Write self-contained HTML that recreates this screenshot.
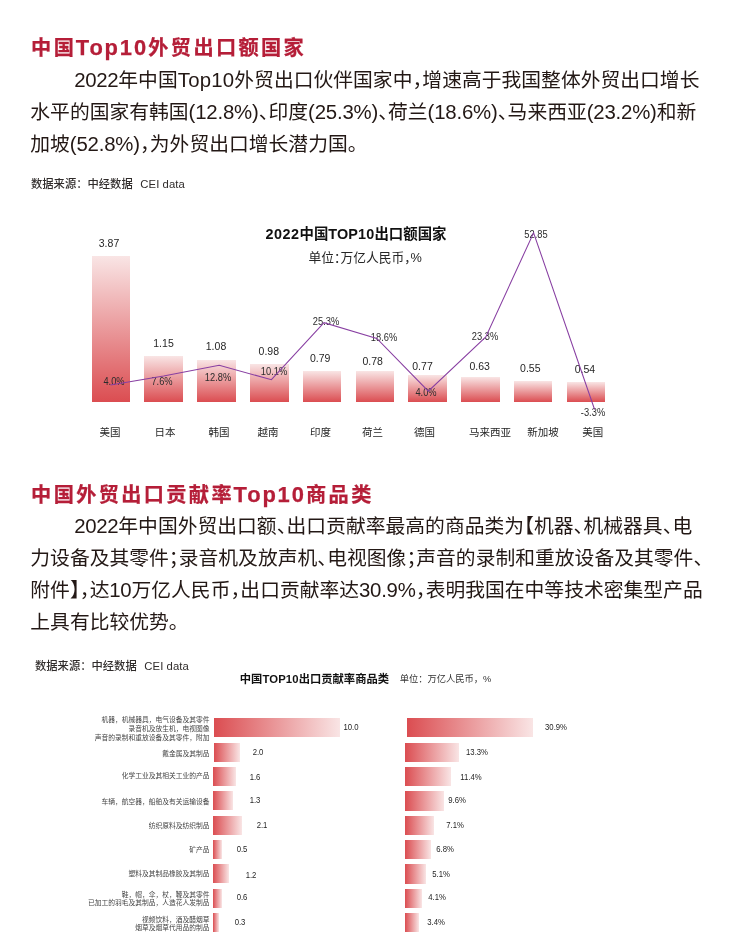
<!DOCTYPE html>
<html lang="zh-CN">
<head>
<meta charset="utf-8">
<title>中国Top10外贸出口额国家</title>
<style>
html,body{margin:0;padding:0;background:#fff;}
body{width:739px;height:940px;position:relative;overflow:hidden;font-family:"Liberation Sans","Noto Sans CJK SC",sans-serif;color:#231815;}
.abs{position:absolute;white-space:nowrap;margin:0;padding:0;}
h2.abs{font-size:20.2px;font-weight:bold;color:#b51e38;-webkit-text-stroke:0.25px #b51e38;letter-spacing:2.35px;line-height:24px;}
p.body{font-size:19.8px;line-height:32px;letter-spacing:0.01px;}
.h{font-feature-settings:"halt";}
.e{font-size:1.03em;}
.src{font-size:11.3px;line-height:14px;color:#302c2b;font-weight:500;}
.src span{letter-spacing:0.08px;margin-left:7.6px;}
.c{position:absolute;white-space:nowrap;transform:translate(-50%,-50%);line-height:1;}
.l{position:absolute;white-space:nowrap;transform:translate(0,-50%);line-height:1;}
.v{font-size:10.5px;color:#262626;}
.pc{font-size:10px;color:#2c2c2c;transform:translate(-50%,-50%) scaleX(0.93);}
.cat{font-size:10.5px;color:#262626;}
.bar{position:absolute;background:linear-gradient(to top,#db4d51,#f9e5e5);}
.hbar{position:absolute;background:linear-gradient(to right,#db4d51,#f9e5e5);}
.ct1{font-size:14.4px;font-weight:bold;color:#111;}
.cs1{font-size:12.75px;color:#262626;}
.ct2{font-size:11.3px;font-weight:bold;color:#111;}
.cs2{font-size:9.27px;color:#333;}
.hv{font-size:8.7px;color:#1f1f1f;transform:translate(-50%,-50%) scaleX(0.89);}
svg{position:absolute;left:0;top:0;overflow:visible;}
</style>
</head>
<body>
<h2 class="abs" style="left:31.1px;top:36.2px;">中国<span style="font-size:1.085em;letter-spacing:1.85px;margin-left:-0.4px;margin-right:0.4px">Top10</span>外贸出口额国家</h2>
<p class="abs body" style="left:74.4px;top:64px;"><span class="e" style="letter-spacing:-0.35px;margin:0 0.17px 0 -0.17px">2022</span>年中国<span class="e" style="letter-spacing:0.22px;margin:0 -0.11px 0 0.11px">Top10</span>外贸出口伙伴国家中<span class="h">，</span>增速高于我国整体外贸出口增长</p>
<p class="abs body" style="left:30.3px;top:96px;">水平的国家有韩国<span class="e" style="letter-spacing:-0.19px;margin:0 0.10px 0 -0.10px">(12.8%)</span><span class="h">、</span>印度<span class="e" style="letter-spacing:-0.19px;margin:0 0.10px 0 -0.10px">(25.3%)</span><span class="h">、</span>荷兰<span class="e" style="letter-spacing:-0.19px;margin:0 0.10px 0 -0.10px">(18.6%)</span><span class="h">、</span>马来西亚<span class="e" style="letter-spacing:-0.19px;margin:0 0.10px 0 -0.10px">(23.2%)</span>和新</p>
<p class="abs body" style="left:30.3px;top:128px;">加坡<span class="e" style="letter-spacing:-0.19px;margin:0 0.10px 0 -0.10px">(52.8%)</span><span class="h">，</span>为外贸出口增长潜力国<span class="h">。</span></p>
<p class="abs src" style="left:31px;top:177px;">数据来源：中经数据<span>CEI data</span></p>
<div class="c ct1" style="left:356px;top:234.2px;"><span style="letter-spacing:0.48px">2022</span>中国<span style="letter-spacing:0.17px">TOP10</span>出口额国家</div>
<div class="c cs1" style="left:365.4px;top:258.1px;">单位<span class="h">：</span>万亿人民币<span class="h">，</span><span style="letter-spacing:0.4px">%</span></div>
<div class="bar" style="left:92.0px;top:256.0px;width:38.0px;height:145.9px;"></div>
<div class="bar" style="left:144.1px;top:355.9px;width:38.9px;height:46.0px;"></div>
<div class="bar" style="left:196.9px;top:359.8px;width:39.1px;height:42.1px;"></div>
<div class="bar" style="left:250.0px;top:364.0px;width:38.9px;height:37.9px;"></div>
<div class="bar" style="left:303.0px;top:371.0px;width:38.1px;height:30.9px;"></div>
<div class="bar" style="left:356.0px;top:371.0px;width:38.1px;height:30.9px;"></div>
<div class="bar" style="left:407.9px;top:374.9px;width:39.3px;height:27.0px;"></div>
<div class="bar" style="left:461.1px;top:377.2px;width:39.0px;height:24.7px;"></div>
<div class="bar" style="left:514.1px;top:381.4px;width:38.0px;height:20.5px;"></div>
<div class="bar" style="left:567.0px;top:382.0px;width:38.0px;height:19.9px;"></div>
<div class="c v" style="left:109.0px;top:242.5px;">3.87</div>
<div class="c v" style="left:163.5px;top:342.8px;">1.15</div>
<div class="c v" style="left:216.0px;top:346.0px;">1.08</div>
<div class="c v" style="left:268.8px;top:351.0px;">0.98</div>
<div class="c v" style="left:320.1px;top:358.0px;">0.79</div>
<div class="c v" style="left:372.7px;top:360.8px;">0.78</div>
<div class="c v" style="left:422.5px;top:365.7px;">0.77</div>
<div class="c v" style="left:479.6px;top:365.7px;">0.63</div>
<div class="c v" style="left:530.3px;top:367.9px;">0.55</div>
<div class="c v" style="left:584.9px;top:368.9px;">0.54</div>
<div class="c pc" style="left:113.8px;top:381.8px;">4.0%</div>
<div class="c pc" style="left:162.0px;top:381.8px;">7.6%</div>
<div class="c pc" style="left:218.0px;top:377.9px;">12.8%</div>
<div class="c pc" style="left:274.0px;top:372.4px;">10.1%</div>
<div class="c pc" style="left:325.5px;top:322.0px;">25.3%</div>
<div class="c pc" style="left:384.0px;top:337.8px;">18.6%</div>
<div class="c pc" style="left:426.4px;top:392.5px;">4.0%</div>
<div class="c pc" style="left:484.8px;top:336.6px;">23.3%</div>
<div class="c pc" style="left:535.8px;top:234.6px;">52.85</div>
<div class="c pc" style="left:592.7px;top:413.2px;">-3.3%</div>
<div class="c cat" style="left:110.0px;top:432.0px;">美国</div>
<div class="c cat" style="left:165.0px;top:432.0px;">日本</div>
<div class="c cat" style="left:219.0px;top:432.0px;">韩国</div>
<div class="c cat" style="left:268.1px;top:432.0px;">越南</div>
<div class="c cat" style="left:320.5px;top:432.0px;">印度</div>
<div class="c cat" style="left:372.5px;top:432.0px;">荷兰</div>
<div class="c cat" style="left:424.4px;top:432.0px;">德国</div>
<div class="c cat" style="left:490.0px;top:432.0px;">马来西亚</div>
<div class="c cat" style="left:543.0px;top:432.0px;">新加坡</div>
<div class="c cat" style="left:592.7px;top:432.0px;">美国</div>
<svg width="739" height="940" viewBox="0 0 739 940"><polyline fill="none" stroke="#883fa2" stroke-width="1.05" stroke-linejoin="miter" points="110.5,385.0 163.6,376.0 219.2,365.3 271.4,379.7 324.0,322.7 376.8,338.5 428.3,391.2 485.8,336.9 533.6,232.8 594.6,409.5"/></svg>
<h2 class="abs" style="left:31.1px;top:483.2px;">中国外贸出口贡献率<span style="font-size:1.085em;letter-spacing:1.85px;margin-left:-0.4px;margin-right:0.4px">Top10</span>商品类</h2>
<p class="abs body" style="left:74.4px;top:510px;"><span class="e" style="letter-spacing:-0.35px;margin:0 0.17px 0 -0.17px">2022</span>年中国外贸出口额<span class="h">、</span>出口贡献率最高的商品类为<span class="h">【</span>机器<span class="h">、</span>机械器具<span class="h">、</span>电</p>
<p class="abs body" style="left:30.3px;top:542px;">力设备及其零件<span class="h">；</span>录音机及放声机<span class="h">、</span>电视图像<span class="h">；</span>声音的录制和重放设备及其零件<span class="h">、</span></p>
<p class="abs body" style="left:30.3px;top:574px;">附件<span class="h">】</span><span class="h">，</span>达<span class="e" style="letter-spacing:-0.35px;margin:0 0.17px 0 -0.17px">10</span>万亿人民币<span class="h">，</span>出口贡献率达<span class="e" style="letter-spacing:-0.23px;margin:0 0.11px 0 -0.11px">30.9%</span><span class="h">，</span>表明我国在中等技术密集型产品</p>
<p class="abs body" style="left:30.3px;top:606px;">上具有比较优势<span class="h">。</span></p>
<p class="abs src" style="left:35px;top:658.5px;">数据来源：中经数据<span>CEI data</span></p>
<div class="l ct2" style="left:239.8px;top:679.8px;">中国<span style="letter-spacing:0.13px">TOP10</span>出口贡献率商品类</div>
<div class="l cs2" style="left:399.7px;top:680.0px;">单位：万亿人民币，<span style="letter-spacing:0.28px">%</span></div>
<div class="hbar" style="left:213.8px;top:718.1px;width:126.1px;height:18.6px;"></div>
<div class="hbar" style="left:406.9px;top:718.1px;width:126.1px;height:18.6px;"></div>
<div class="hbar" style="left:213.8px;top:743.0px;width:26.2px;height:18.8px;"></div>
<div class="hbar" style="left:405.1px;top:743.0px;width:54.0px;height:18.8px;"></div>
<div class="hbar" style="left:213.1px;top:767.1px;width:23.0px;height:18.9px;"></div>
<div class="hbar" style="left:405.1px;top:767.1px;width:46.0px;height:18.9px;"></div>
<div class="hbar" style="left:213.1px;top:791.3px;width:19.8px;height:18.8px;"></div>
<div class="hbar" style="left:405.1px;top:791.3px;width:38.8px;height:19.5px;"></div>
<div class="hbar" style="left:213.1px;top:816.1px;width:29.0px;height:18.9px;"></div>
<div class="hbar" style="left:405.1px;top:816.1px;width:28.9px;height:18.9px;"></div>
<div class="hbar" style="left:213.1px;top:840.2px;width:9.0px;height:18.9px;"></div>
<div class="hbar" style="left:405.1px;top:840.2px;width:26.0px;height:18.9px;"></div>
<div class="hbar" style="left:213.1px;top:864.2px;width:16.1px;height:18.6px;"></div>
<div class="hbar" style="left:405.1px;top:864.2px;width:20.9px;height:19.5px;"></div>
<div class="hbar" style="left:213.1px;top:889.0px;width:9.0px;height:18.9px;"></div>
<div class="hbar" style="left:405.1px;top:889.0px;width:17.0px;height:18.9px;"></div>
<div class="hbar" style="left:213.1px;top:913.2px;width:5.8px;height:18.8px;"></div>
<div class="hbar" style="left:405.1px;top:913.2px;width:13.8px;height:18.8px;"></div>
<div class="c hv" style="left:351.0px;top:727.3px;">10.0</div>
<div class="c hv" style="left:258.1px;top:752.2px;">2.0</div>
<div class="c hv" style="left:255.4px;top:777.0px;">1.6</div>
<div class="c hv" style="left:255.4px;top:800.0px;">1.3</div>
<div class="c hv" style="left:261.5px;top:825.1px;">2.1</div>
<div class="c hv" style="left:242.4px;top:849.2px;">0.5</div>
<div class="c hv" style="left:250.5px;top:874.5px;">1.2</div>
<div class="c hv" style="left:242.2px;top:897.1px;">0.6</div>
<div class="c hv" style="left:239.7px;top:921.9px;">0.3</div>
<div class="c hv" style="left:555.6px;top:727.3px;">30.9%</div>
<div class="c hv" style="left:477.4px;top:752.2px;">13.3%</div>
<div class="c hv" style="left:470.5px;top:777.0px;">11.4%</div>
<div class="c hv" style="left:456.6px;top:800.0px;">9.6%</div>
<div class="c hv" style="left:454.6px;top:825.0px;">7.1%</div>
<div class="c hv" style="left:445.1px;top:849.2px;">6.8%</div>
<div class="c hv" style="left:441.1px;top:874.0px;">5.1%</div>
<div class="c hv" style="left:437.0px;top:897.0px;">4.1%</div>
<div class="c hv" style="left:435.5px;top:921.9px;">3.4%</div>
<svg width="739" height="940" viewBox="0 0 739 940" style="font-size:6.75px;fill:#444;" text-anchor="end">
<text x="209.4" y="722">机器，机械器具，电气设备及其零件</text>
<text x="209.4" y="731">录音机及放生机，电视图像</text>
<text x="209.4" y="740">声音的录制和重放设备及其零件，附加</text>
<text x="209.4" y="756">戴金属及其制品</text>
<text x="209.4" y="778">化学工业及其相关工业的产品</text>
<text x="209.4" y="804">车辆，航空器，船舶及有关运输设备</text>
<text x="209.4" y="828">纺织原料及纺织制品</text>
<text x="209.4" y="852">矿产品</text>
<text x="209.4" y="876">塑料及其制品橡胶及其制品</text>
<text x="209.4" y="897">鞋，帽，伞，杖，鞭及其零件</text>
<text x="209.4" y="905">已加工的羽毛及其制品，人造花人发制品</text>
<text x="209.4" y="922">视频饮料，酒及醋烟草</text>
<text x="209.4" y="930">烟草及烟草代用品的制品</text>
</svg>
</body>
</html>
